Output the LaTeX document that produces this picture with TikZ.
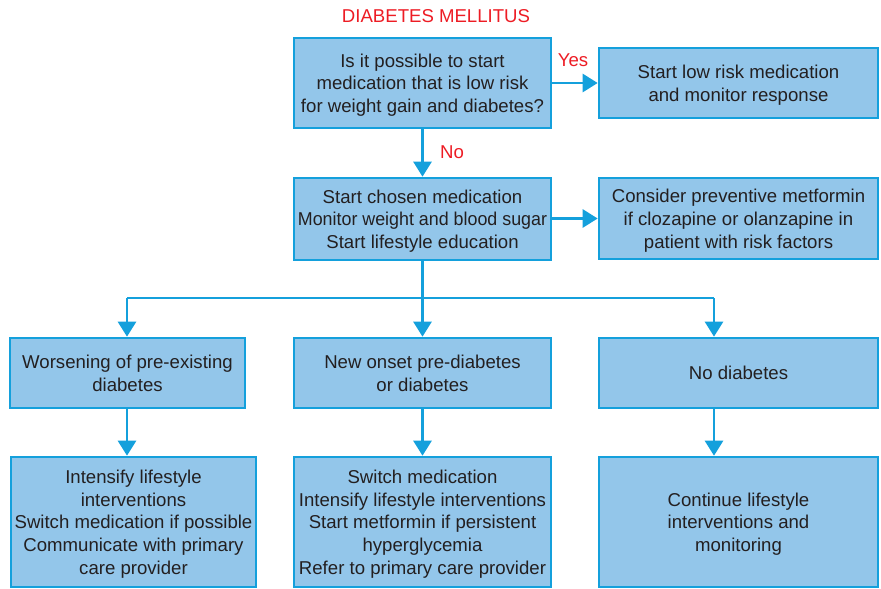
\documentclass[tikz,border=0pt]{standalone}
\usepackage{fontspec}
\usepackage{graphicx}
\setmainfont{Liberation Sans}
\usetikzlibrary{arrows.meta}
\definecolor{boxfill}{RGB}{147,198,234}
\definecolor{boxline}{RGB}{20,160,220}
\definecolor{txt}{RGB}{35,31,32}
\definecolor{lbl}{RGB}{237,28,36}
% centred lines, set a little low inside their box
\newcommand\boxlines[1]{\raisebox{-2.4pt}[\height][\depth]{\begin{tabular}{@{}c@{}}#1\end{tabular}}}
\begin{document}
\begin{tikzpicture}[x=1pt,y=-1pt,
  flowbox/.style={draw=boxline, fill=boxfill, line width=2.6pt, text=txt,
    align=center, inner sep=0pt, font=\fontsize{18.6}{22.6}\selectfont},
  arr/.style={draw=boxline, line width=2.6pt,
    -{Triangle[length=15pt,width=18pt]}},
  link/.style={draw=boxline, line width=2.6pt},
  lab/.style={text=lbl, font=\fontsize{18.6}{22.6}\selectfont, inner sep=0pt}]
\useasboundingbox (0,0) rectangle (881,589);

% heading
\node[lab] (title) at (436,16) {DIABETES MELLITUS};

% top decision and its two outcomes
\node[flowbox, minimum width=257pt, minimum height=90pt] (q) at (422.5,83)
  {\boxlines{Is it possible to start\\medication that is low risk\\for weight gain and diabetes?}};
\node[flowbox, minimum width=279pt, minimum height=70pt] (yes) at (738.5,83)
  {\boxlines{Start low risk medication\\and monitor response}};
\node[flowbox, minimum width=257pt, minimum height=82pt] (start) at (422.5,219)
  {\boxlines{Start chosen medication\\\scalebox{0.96}[1]{Monitor weight and blood sugar}\\Start lifestyle education}};
\node[flowbox, minimum width=279pt, minimum height=81pt] (cons) at (738.5,218.5)
  {\boxlines{Consider preventive metformin\\if clozapine or olanzapine in\\patient with risk factors}};

% outcome row
\node[flowbox, minimum width=235pt, minimum height=70pt] (wors) at (127.5,373)
  {\boxlines{Worsening of pre-existing\\diabetes}};
\node[flowbox, minimum width=257pt, minimum height=70pt] (onset) at (422.5,373)
  {\boxlines{New onset pre-diabetes\\or diabetes}};
\node[flowbox, minimum width=279pt, minimum height=70pt] (nodia) at (738.5,373)
  {\boxlines{No diabetes}};

% action row
\node[flowbox, minimum width=245pt, minimum height=130pt] (actA) at (133.5,522)
  {\boxlines{Intensify lifestyle\\interventions\\Switch medication if possible\\Communicate with primary\\care provider}};
\node[flowbox, minimum width=257pt, minimum height=130pt] (actB) at (422.5,522)
  {\boxlines{Switch medication\\Intensify lifestyle interventions\\Start metformin if persistent\\hyperglycemia\\Refer to primary care provider}};
\node[flowbox, minimum width=279pt, minimum height=130pt] (actC) at (738.5,522)
  {\boxlines{Continue lifestyle\\interventions and\\monitoring}};

% branch columns
\coordinate (colA) at (127,0);
\coordinate (colB) at (422.5,0);
\coordinate (colC) at (714,0);
\coordinate (split) at (422.5,298);

% connectors
\draw[arr] (q.east) -- (yes.west);
\node[lab] (yeslab) at (573,60) {Yes};
\draw[arr] (q.south) -- (start.north);
\node[lab] (nolab) at (452,152) {No};
\draw[arr] (start.east |- cons.west) -- (cons.west);

\draw[link] (start.south) -- (split);
\draw[link] (colA |- split) -- (colC |- split);
\draw[arr] (colA |- split) -- (colA |- wors.north);
\draw[arr] (split) -- (colB |- onset.north);
\draw[arr] (colC |- split) -- (colC |- nodia.north);

\draw[arr] (colA |- wors.south) -- (colA |- actA.north);
\draw[arr] (colB |- onset.south) -- (colB |- actB.north);
\draw[arr] (colC |- nodia.south) -- (colC |- actC.north);
\end{tikzpicture}
\end{document}
